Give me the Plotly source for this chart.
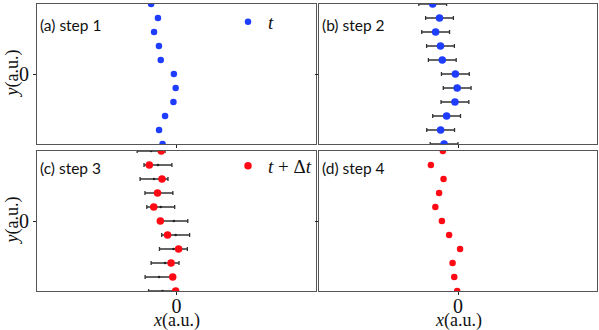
import plotly.graph_objects as go
from plotly.subplots import make_subplots

# rows of the lattice, top to bottom
y_rows = [5, 4, 3, 2, 1, 0, -1, -2, -3, -4, -5]
# positions at time t (steps 1 and 2)
x_t = [-1.82, -1.33, -1.61, -1.26, -1.13, -0.19, -0.06, -0.22, -0.82, -1.25, -1.00]
# positions at time t + dt (steps 3 and 4)
x_tdt = [-1.09, -1.95, -1.04, -1.36, -1.63, -1.16, -0.64, 0.15, -0.39, -0.27, -0.06]
# spread shown as error bars
x_err = [1.0, 1.0, 1.0, 1.0, 1.0, 1.0, 1.0, 1.0, 1.0, 1.0, 1.0]

panel_labels = ["(a) step 1", "(b) step 2", "(c) step 3", "(d) step 4"]
x_ticks = [0]
y_ticks = [0]

BLUE = "#1f3dff"
RED = "#ff0a14"
BAR = "#333333"
W, H = 599, 330
serif = "Liberation Serif"

fig = make_subplots(rows=2, cols=2)

# (a) plain points at t
fig.add_trace(go.Scatter(x=x_t, y=y_rows, mode="markers", name="<i>t</i>",
                         marker=dict(color=BLUE, size=6.5), legend="legend"), row=1, col=1)
# (b) points at t with spread
fig.add_trace(go.Scatter(x=x_t, y=y_rows, mode="markers", showlegend=False,
                         marker=dict(color=BLUE, size=7.5),
                         error_x=dict(type="data", array=x_err, color=BAR, thickness=1.3, width=2)),
              row=1, col=2)
# (c) spread around old positions + new points
fig.add_trace(go.Scatter(x=x_t, y=y_rows, mode="markers", showlegend=False,
                         marker=dict(color="#222", size=2.5),
                         error_x=dict(type="data", array=x_err, color=BAR, thickness=1.3, width=2)),
              row=2, col=1)
fig.add_trace(go.Scatter(x=x_tdt, y=y_rows, mode="markers", name="<i>t</i> + Δ<i>t</i>",
                         marker=dict(color=RED, size=7.5), legend="legend2"), row=2, col=1)
# (d) new points only
fig.add_trace(go.Scatter(x=x_tdt, y=y_rows, mode="markers", showlegend=False,
                         marker=dict(color=RED, size=6.5)), row=2, col=2)

xdom = [[37 / W, 316 / W], [319 / W, 597 / W]]
ydom = [[186 / H, 326 / H], [39 / H, 179 / H]]
label_y = [0.85, 0.88]

axis_common = dict(showline=True, mirror=True, linecolor="#555", linewidth=1,
                   ticks="outside", ticklen=3, tickcolor="#222", showgrid=False,
                   zeroline=False, automargin=False,
                   tickfont=dict(family=serif, size=20, color="#111"))
title_font = dict(family=serif, size=18, color="#111")

for i in range(4):
    r, c = divmod(i, 2)
    n = "" if i == 0 else str(i + 1)
    fig.layout["xaxis" + n].update(domain=xdom[c], range=[-10, 10], tickvals=x_ticks,
                                   showticklabels=(r == 1), ticklabelstandoff=-6,
                                   **axis_common)
    fig.layout["yaxis" + n].update(domain=ydom[r], range=[-5, 5], tickvals=y_ticks,
                                   showticklabels=(c == 0), **axis_common)
    if r == 1:
        fig.add_annotation(text="<i>x</i>(a.u.)", xref="x" + n, yref="paper", x=0, y=0,
                           yshift=-3, yanchor="bottom", showarrow=False, font=title_font)
    if c == 0:
        fig.add_annotation(text="<i>y</i>(a.u.)", xref="paper", yref="y" + n, x=0, y=0,
                           xanchor="left", textangle=-90, showarrow=False, font=title_font)
    fig.add_annotation(text=panel_labels[i], xref="x" + n + " domain", yref="y" + n + " domain",
                       x=0.0, xshift=1, y=label_y[r], xanchor="left", yanchor="middle",
                       showarrow=False, font=dict(family="Lato", size=15.5, color="#111"))

fig.update_layout(
    width=W, height=H, margin=dict(l=0, r=0, t=0, b=0, autoexpand=False),
    plot_bgcolor="white", paper_bgcolor="white",
    legend=dict(x=228 / W, y=(H - 3) / H, xanchor="left", yanchor="top",
                bgcolor="rgba(0,0,0,0)", font=dict(family=serif, size=19, color="#111")),
    legend2=dict(x=228 / W, y=(H - 147) / H, xanchor="left", yanchor="top",
                 bgcolor="rgba(0,0,0,0)", font=dict(family=serif, size=19, color="#111")),
)

# drop the default page margin so the figure sits at the window's corner
fig.write_html("out.html", config={"displayModeBar": False},
               post_script="document.body.style.margin='0';")
